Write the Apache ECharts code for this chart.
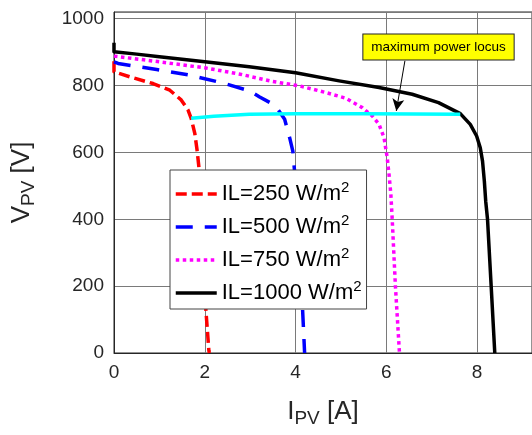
<!DOCTYPE html>
<html>
<head>
<meta charset="utf-8">
<script src="https://cdn.jsdelivr.net/npm/echarts@6/dist/echarts.min.js"></script>
<style>
  html, body { margin: 0; padding: 0; background: #fff; }
  #chart { width: 532px; height: 435px; }
</style>
</head>
<body>
<div id="chart"></div>
<script>
// I-V curves (I in A, V in V)
var red250_I = [0, 0, 0.35, 0.86, 1.23, 1.48, 1.63, 1.70, 1.78, 1.83, 1.87, 1.93, 1.99, 2.03, 2.09, 2.1];
var red250_V = [873, 841, 826, 806, 786, 757, 727, 702, 657, 607, 557, 400, 200, 118, 8, 0];

var blue500_I = [0, 0.09, 0.94, 1.67, 2.36, 2.99, 3.21, 3.45, 3.61, 3.76, 3.87, 3.94, 4.07, 4.13, 4.16, 4.2];
var blue500_V = [871, 866, 848, 831, 809, 784, 766, 748, 729, 699, 644, 604, 400, 200, 116, 0];

var mag750_I = [0, 1.0, 2.0, 2.78, 3.5, 4.09, 4.67, 5.11, 5.47, 5.69, 5.84, 5.95, 6.02, 6.06, 6.1, 6.13, 6.2, 6.29];
var mag750_V = [888, 871, 853, 834, 812, 799, 779, 762, 734, 709, 684, 644, 584, 534, 475, 400, 201, 0];

var black1000_I = [0, 0, 0.5, 1.0, 2.0, 2.98, 4.0, 4.96, 5.84, 6.57, 7.15, 7.63, 7.85, 7.99, 8.07, 8.12, 8.16, 8.19, 8.23, 8.31, 8.39];
var black1000_V = [928, 901, 894, 886, 871, 856, 838, 814, 794, 774, 749, 716, 684, 649, 614, 574, 514, 454, 400, 201, 0];

// maximum power locus
var mpp_I = [1.70, 2.2, 2.98, 4.0, 5.5, 6.6, 7.63];
var mpp_V = [702, 708, 714, 716, 716, 715, 714];

var seriesNames = ['IL=250 W/m2', 'IL=500 W/m2', 'IL=750 W/m2', 'IL=1000 W/m2'];
var legendLabels = ['IL=250 W/m', 'IL=500 W/m', 'IL=750 W/m', 'IL=1000 W/m'];

// annotation: text box centre and arrow (data coords)
var noteText = 'maximum power locus';
var noteAt = [7.15, 915];
var arrowFrom = [6.41, 874];
var arrowTo = [6.22, 724];

var xTicks = { min: 0, max: 9.21, step: 2 };
var yTicks = { min: 0, max: 1020, step: 200 };

function pairs(xs, ys) {
  var out = [];
  for (var i = 0; i < xs.length; i++) {
    out.push([xs[i], ys[i]]);
  }
  return out;
}

var font = 'Liberation Sans, Arial, sans-serif';
var axisColor = '#262626';
var gridColor = '#7a7a7a';

var myChart = echarts.init(document.getElementById('chart'), null, { renderer: 'canvas' });

function curve(name, xs, ys, color, dash, width) {
  return {
    name: name,
    type: 'line',
    data: pairs(xs, ys),
    symbol: 'none',
    smooth: false,
    lineStyle: { color: color, width: width, type: dash, cap: 'butt', join: 'round' },
    itemStyle: { color: color }
  };
}

// axis title with subscript
var titleRich = {
  a: { fontFamily: font, fontSize: 26, color: axisColor, lineHeight: 32 },
  b: { fontFamily: font, fontSize: 19, color: axisColor, verticalAlign: 'bottom' }
};

var option = {
  animation: false,
  backgroundColor: '#fff',
  grid: {
    left: 114,
    top: 12,
    bottom: 82,
    right: -2,
    show: true,
    borderColor: axisColor,
    borderWidth: 1
  },
  legend: {
    data: seriesNames,
    orient: 'vertical',
    left: 170,
    top: 170,
    itemWidth: 41,
    itemHeight: 14,
    itemGap: 8,
    padding: [10, 5, 5, 4],
    borderColor: '#444',
    borderWidth: 1,
    backgroundColor: '#fff',
    borderRadius: 0,
    itemStyle: { opacity: 0 },
    lineStyle: { width: 3.5 },
    formatter: function (name) {
      var k = seriesNames.indexOf(name);
      return '{a|' + legendLabels[k] + '}{s|2}';
    },
    textStyle: {
      rich: {
        a: { fontFamily: font, fontSize: 22, color: '#000', lineHeight: 28 },
        s: { fontFamily: font, fontSize: 15, color: '#000', verticalAlign: 'top' }
      }
    }
  },
  xAxis: {
    type: 'value',
    min: xTicks.min,
    max: xTicks.max,
    interval: xTicks.step,
    name: '{a|I}{b|PV}{a| [A]}',
    nameLocation: 'middle',
    nameGap: 43,
    nameTextStyle: { rich: titleRich },
    axisLine: { show: true, lineStyle: { color: axisColor, width: 1 } },
    axisTick: { show: false },
    axisLabel: {
      fontFamily: font, fontSize: 19, color: axisColor, margin: 10,
      showMaxLabel: false,
      formatter: function (v) { return String(v); }
    },
    splitLine: { show: true, lineStyle: { color: gridColor, width: 1 } }
  },
  yAxis: {
    type: 'value',
    min: yTicks.min,
    max: yTicks.max,
    interval: yTicks.step,
    name: '{a|V}{b|PV}{a| [V]}',
    nameLocation: 'middle',
    nameGap: 76,
    nameTextStyle: { rich: titleRich },
    axisLine: { show: true, lineStyle: { color: axisColor, width: 1 } },
    axisTick: { show: false },
    axisLabel: {
      fontFamily: font, fontSize: 19, color: axisColor, margin: 10,
      showMaxLabel: false,
      formatter: function (v) { return String(v); }
    },
    splitLine: { show: true, lineStyle: { color: gridColor, width: 1 } }
  },
  series: [
    curve(seriesNames[0], red250_I, red250_V, '#ff0000', [11, 5], 3.5),
    curve(seriesNames[1], blue500_I, blue500_V, '#0000ff', [17, 12], 3.5),
    curve(seriesNames[2], mag750_I, mag750_V, '#ff00ff', [3.5, 3.5], 3.5),
    curve(seriesNames[3], black1000_I, black1000_V, '#000000', 'solid', 3.5),
    {
      name: 'locus',
      type: 'line',
      data: pairs(mpp_I, mpp_V),
      symbol: 'none',
      lineStyle: { color: '#00ffff', width: 3.5 },
      itemStyle: { color: '#00ffff' },
      z: 3,
      markLine: {
        silent: true,
        symbol: ['none', 'arrow'],
        symbolSize: [9, 12],
        lineStyle: { color: '#000', width: 1, type: 'solid' },
        label: { show: false },
        data: [[{ coord: arrowFrom }, { coord: arrowTo }]]
      },
      markPoint: {
        silent: true,
        data: [{
          coord: noteAt,
          symbol: 'rect',
          symbolSize: [150, 22],
          itemStyle: { color: '#ffff00', borderWidth: 0 },
          label: {
            show: true,
            position: 'inside',
            formatter: noteText,
            fontFamily: font,
            fontSize: 13.5,
            color: '#000',
            backgroundColor: '#ffff00',
            borderColor: '#222',
            borderWidth: 1,
            padding: [6, 8, 5, 8]
          }
        }]
      }
    }
  ]
};

myChart.setOption(option);
</script>
</body>
</html>
